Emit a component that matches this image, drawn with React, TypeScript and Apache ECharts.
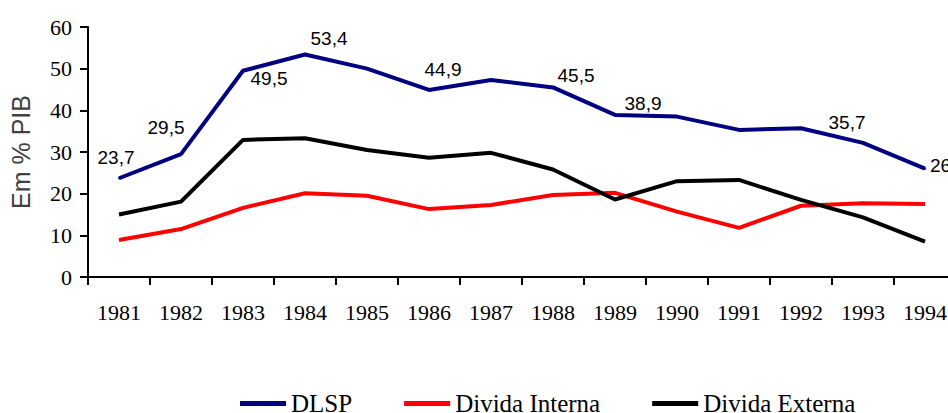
import React, { useEffect, useRef } from "react";
import * as echarts from "echarts";

const years = ["1981","1982","1983","1984","1985","1986","1987","1988","1989","1990","1991","1992","1993","1994"];
const dlsp = [23.7, 29.5, 49.5, 53.4, 50.0, 44.9, 47.3, 45.5, 38.9, 38.5, 35.3, 35.7, 32.2, 26.0];
const dividaInterna = [8.9, 11.5, 16.6, 20.1, 19.5, 16.3, 17.3, 19.7, 20.2, 15.7, 11.8, 17.1, 17.7, 17.5];
const dividaExterna = [15.0, 18.1, 32.9, 33.3, 30.5, 28.6, 29.8, 25.8, 18.6, 23.0, 23.3, 18.5, 14.3, 8.5];
const yTicks = [0, 10, 20, 30, 40, 50, 60];

// label offsets (dx, dy) relative to the point, for the labelled DLSP points
const labelOffsets: Record<number, [number, number]> = {
  0: [-3, -21],
  1: [-15, -27],
  2: [26, 8],
  3: [24, -16],
  5: [14, -20],
  7: [23, -12],
  8: [28, -11],
  11: [46, -6],
};

const fmt = (v: number) => v.toFixed(1).replace(".", ",");

export default function App() {
  const ref = useRef<HTMLDivElement>(null);
  useEffect(() => {
    if (!ref.current) return;
    const chart = echarts.init(ref.current, null, { renderer: "svg" });
    const serif = "'Liberation Serif', 'Times New Roman', serif";
    const sans = "'Liberation Sans', Arial, sans-serif";
    const dlspData = dlsp.map((v, i) => {
      const off = labelOffsets[i];
      if (off) {
        return {
          value: v,
          label: {
            show: true,
            position: [off[0] + 1, off[1] + 1],
            align: "center",
            verticalAlign: "middle",
          },
        };
      }
      if (i === dlsp.length - 1) {
        return {
          value: v,
          label: {
            show: true,
            position: [6, -2],
            align: "left",
            verticalAlign: "middle",
          },
        };
      }
      return { value: v };
    });
    chart.setOption({
      animation: false,
      grid: { left: 88, top: 27, bottom: 136, right: -8, containLabel: false, outerBoundsMode: "none" },
      legend: {
        left: 235,
        top: 386,
        icon: "rect",
        itemWidth: 46,
        itemHeight: 5,
        itemGap: 52,
        textStyle: { fontFamily: serif, fontSize: 25, color: "#000" },
        data: ["DLSP", "Divida Interna", "Divida Externa"],
      },
      xAxis: {
        type: "category",
        data: years,
        boundaryGap: true,
        axisLine: { lineStyle: { color: "#000", width: 2 } },
        axisTick: { show: true, length: 8, lineStyle: { color: "#000", width: 2 }, interval: 0 },
        axisLabel: { fontFamily: serif, fontSize: 22, color: "#000", margin: 24, interval: 0, hideOverlap: false },
        splitLine: { show: false },
      },
      yAxis: {
        type: "value",
        min: yTicks[0],
        max: yTicks[yTicks.length - 1],
        interval: 10,
        name: "Em % PIB",
        nameLocation: "middle",
        nameRotate: 90,
        nameGap: 55,
        nameTextStyle: { fontFamily: sans, fontSize: 25, color: "#404040" },
        axisLine: { show: true, lineStyle: { color: "#000", width: 2 } },
        axisTick: { show: true, length: 8, lineStyle: { color: "#000", width: 2 } },
        axisLabel: { fontFamily: serif, fontSize: 22, color: "#000", margin: 16 },
        splitLine: { show: false },
      },
      series: [
        {
          name: "DLSP",
          type: "line",
          data: dlspData,
          symbol: "circle",
          symbolSize: 2,
          showSymbol: true,
          itemStyle: { color: "#000080" },
          lineStyle: { color: "#000080", width: 4 },
          label: {
            show: false,
            formatter: (p: any) => fmt(p.value),
            fontFamily: sans,
            fontSize: 19,
            color: "#000",
          },
          z: 3,
        },
        {
          name: "Divida Interna",
          type: "line",
          data: dividaInterna,
          symbol: "none",
          itemStyle: { color: "#ff0000" },
          lineStyle: { color: "#ff0000", width: 4 },
          z: 2,
        },
        {
          name: "Divida Externa",
          type: "line",
          data: dividaExterna,
          symbol: "none",
          itemStyle: { color: "#000000" },
          lineStyle: { color: "#000000", width: 4 },
          z: 2,
        },
      ],
    });
    return () => chart.dispose();
  }, []);
  return (
    <div
      ref={ref}
      style={{ position: "fixed", left: 0, top: 0, width: 948, height: 413, background: "#fff" }}
    />
  );
}
